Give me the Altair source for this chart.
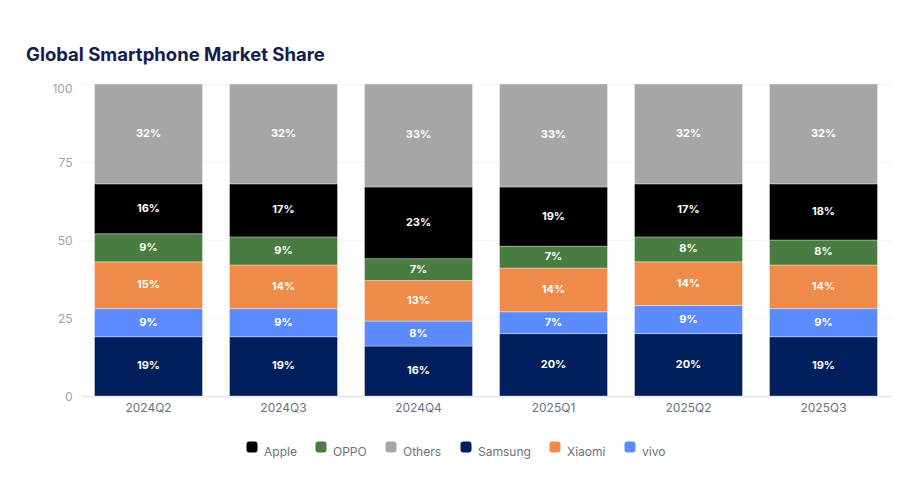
import altair as alt
import pandas as pd

quarters = ["2024Q2", "2024Q3", "2024Q4", "2025Q1", "2025Q2", "2025Q3"]
brands = ["Samsung", "vivo", "Xiaomi", "OPPO", "Apple", "Others"]  # bottom -> top
samsung = [19, 19, 16, 20, 20, 19]
vivo = [9, 9, 8, 7, 9, 9]
xiaomi = [15, 14, 13, 14, 14, 14]
oppo = [9, 9, 7, 7, 8, 8]
apple = [16, 17, 23, 19, 17, 18]
others = [32, 32, 33, 33, 32, 32]

legend_order = ["Apple", "OPPO", "Others", "Samsung", "Xiaomi", "vivo"]
legend_colors = ["#000000", "#487c40", "#a6a6a6", "#001f5c", "#ee8b4a", "#5b8bff"]

series = {"Samsung": samsung, "vivo": vivo, "Xiaomi": xiaomi,
          "OPPO": oppo, "Apple": apple, "Others": others}
rows = []
for bi, b in enumerate(brands):
    for qi, q in enumerate(quarters):
        rows.append({"quarter": q, "brand": b, "value": series[b][qi], "order": bi})
df = pd.DataFrame(rows)

FONT = "Inter"

base = alt.Chart(df)

x_enc = alt.X(
    "quarter:N",
    sort=quarters,
    title=None,
    scale=alt.Scale(paddingInner=0.2, paddingOuter=0.1),
    axis=alt.Axis(
        labelAngle=0, labelColor="#6b7280", labelFontSize=12, labelFont=FONT,
        labelPadding=6, ticks=False, domainColor="#e8e8ee", domainWidth=2,
        grid=False,
    ),
)

bars = base.mark_bar(stroke="white", strokeOpacity=0.35, strokeWidth=1).encode(
    x=x_enc,
    y=alt.Y(
        "value:Q", stack="zero", title=None,
        scale=alt.Scale(domain=[0, 100], nice=False),
        axis=alt.Axis(
            values=[0, 25, 50, 75, 100], labelColor="#9ca3af", labelFontSize=12,
            labelFont=FONT, labelPadding=9, ticks=False, domain=False,
            gridColor="#f3f4f6", gridWidth=1,
            labelOffset=alt.condition("datum.value == 100", alt.value(4), alt.value(0)),
        ),
    ),
    color=alt.Color(
        "brand:N",
        scale=alt.Scale(domain=legend_order, range=legend_colors),
        legend=alt.Legend(
            title=None, orient="none", direction="horizontal",
            legendX=165, legendY=357,
            symbolType="M -0.5,-1 L 0.5,-1 Q 1,-1 1,-0.5 L 1,0.5 Q 1,1 0.5,1 L -0.5,1 Q -1,1 -1,0.5 L -1,-0.5 Q -1,-1 -0.5,-1 Z",
            symbolSize=121, symbolStrokeWidth=0, labelFontSize=12, labelFont=FONT,
            labelColor="#6b7280", labelOffset=6, columnPadding=18,
            labelBaseline="top",
        ),
    ),
    order=alt.Order("order:Q"),
)

labels = base.transform_stack(
    stack="value", groupby=["quarter"], as_=["y0", "y1"],
    sort=[alt.SortField("order", order="ascending")],
).transform_calculate(
    mid="(datum.y0 + datum.y1) / 2",
    label="datum.value + '%'",
).mark_text(
    color="white", fontSize=11, fontWeight="bold", font=FONT, baseline="middle"
).encode(
    x=alt.X("quarter:N", sort=quarters),
    y=alt.Y("mid:Q"),
    text="label:N",
)

chart = alt.layer(bars, labels).properties(
    width=810,
    height=312,
    autosize=alt.AutoSizeParams(type="none"),
    padding={"left": 73, "top": 76, "right": 21, "bottom": 85},
    background="white",
    title=alt.TitleParams(
        "Global Smartphone Market Share", anchor="start", frame="group",
        dx=-55, offset=18, fontSize=18.5, fontWeight=700, font=FONT, color="#141b4d",
    ),
).configure_view(stroke=None)

chart.save("out.html", embed_options={"renderer": "svg", "actions": False})
